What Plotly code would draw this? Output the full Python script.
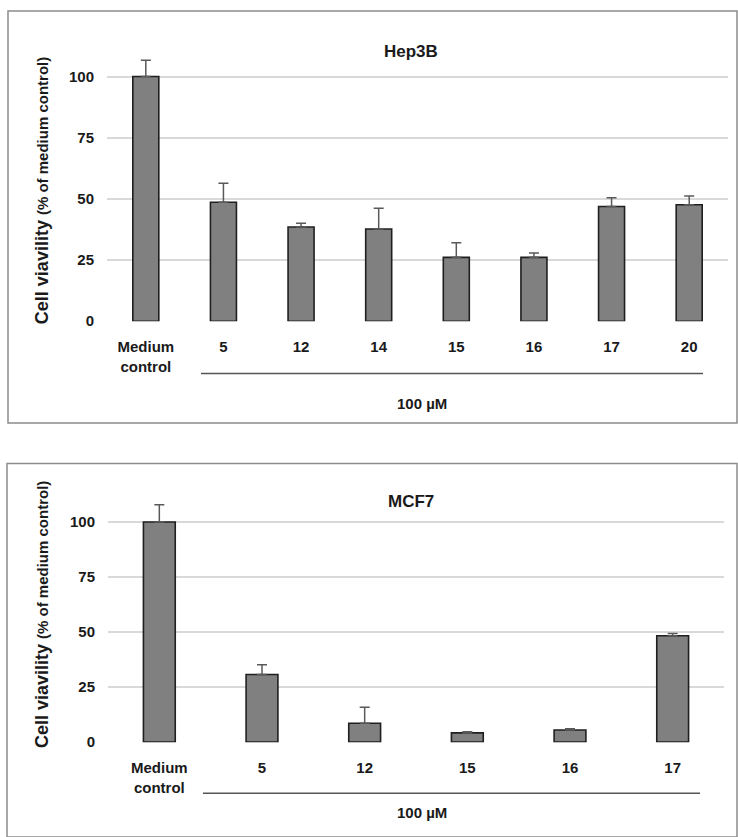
import plotly.graph_objects as go

W, H = 738, 837

# Data
hep_categories = ["Medium<br>control", "5", "12", "14", "15", "16", "17", "20"]
hep_values = [100, 48.6, 38.5, 37.7, 26.1, 26.1, 46.9, 47.6]
hep_errors = [6.7, 7.8, 1.5, 8.5, 6.0, 1.8, 3.6, 3.6]

mcf_categories = ["Medium<br>control", "5", "12", "15", "16", "17"]
mcf_values = [100, 30.7, 8.6, 4.2, 5.5, 48.3]
mcf_errors = [7.8, 4.5, 7.2, 0.5, 0.6, 1.0]

y_ticks = [0, 25, 50, 75, 100]

FONT = "Liberation Sans Narrow, Liberation Sans, Arial, sans-serif"
BAR_COLOR = "#808080"
GRID = "#d9d9d9"
TXT = "#1a1a1a"


def px_x(v):
    return v / W


def px_y(v):
    return 1 - v / H


fig = go.Figure()

fig.add_trace(go.Bar(
    x=hep_categories, y=hep_values, width=0.335,
    marker=dict(color=BAR_COLOR, line=dict(color="#1f1f1f", width=1.6)),
    error_y=dict(type="data", array=hep_errors, arrayminus=[0] * len(hep_errors),
                 symmetric=False, color="#595959", thickness=1.5, width=5),
    xaxis="x", yaxis="y", showlegend=False,
))
fig.add_trace(go.Bar(
    x=mcf_categories, y=mcf_values, width=0.31,
    marker=dict(color=BAR_COLOR, line=dict(color="#1f1f1f", width=1.6)),
    error_y=dict(type="data", array=mcf_errors, arrayminus=[0] * len(mcf_errors),
                 symmetric=False, color="#595959", thickness=1.5, width=5),
    xaxis="x2", yaxis="y2", showlegend=False,
))

xcommon = dict(showgrid=False, showline=False, zeroline=False, ticks="",
               tickfont=dict(family=FONT, size=15, color=TXT, weight="bold"),
               ticklabelstandoff=15, fixedrange=True)
ycommon = dict(range=[0, 120], tickvals=y_ticks, showgrid=True, gridcolor=GRID,
               gridwidth=1.5, zeroline=False, showline=False, ticks="",
               tickfont=dict(family=FONT, size=15, color=TXT, weight="bold"),
               ticklabelstandoff=12, fixedrange=True)

# Top panel: 0 at y=324.3 px, 2.47 px/unit
top_zero = 324.3
top_top = top_zero - 120 * 2.47
# Bottom panel: 0 at y=749.3, 2.223 px/unit
bot_zero = 749.3
bot_top = bot_zero - 120 * 2.223

fig.update_layout(
    width=W, height=H,
    margin=dict(l=0, r=0, t=0, b=0),
    paper_bgcolor="white", plot_bgcolor="white",
    xaxis=dict(domain=[px_x(107), px_x(728)], anchor="y", **xcommon),
    yaxis=dict(domain=[px_y(top_zero), px_y(top_top)], anchor="x", **ycommon),
    xaxis2=dict(domain=[px_x(108), px_x(724)], anchor="y2", **xcommon),
    yaxis2=dict(domain=[px_y(bot_zero), px_y(bot_top)], anchor="x2", **ycommon),
)

shapes = [
    # panel borders
    dict(type="rect", xref="paper", yref="paper", x0=px_x(8), x1=px_x(737),
         y0=px_y(427), y1=px_y(11), line=dict(color="#8c8c8c", width=1.5)),
    dict(type="rect", xref="paper", yref="paper", x0=px_x(7), x1=px_x(737),
         y0=px_y(845), y1=px_y(468), line=dict(color="#8c8c8c", width=1.5)),
    # bracket lines under compound labels
    dict(type="line", xref="paper", yref="paper", x0=px_x(201), x1=px_x(703),
         y0=px_y(377), y1=px_y(377), line=dict(color="#555555", width=1.5)),
    dict(type="line", xref="paper", yref="paper", x0=px_x(203), x1=px_x(700),
         y0=px_y(801), y1=px_y(801), line=dict(color="#555555", width=1.5)),
]

ytitle = ("<b>Cell viavility</b> <b><span style='font-size:15px'>"
          "(% of medium control)</span></b>")


def ann(text, x, y, size, angle=0):
    return dict(text=text, x=px_x(x), y=px_y(y), xref="paper", yref="paper",
                xanchor="center", yanchor="middle", showarrow=False,
                textangle=angle, font=dict(family=FONT, size=size, color=TXT))


annotations = [
    ann("<b>Hep3B</b>", 411, 52, 17),
    ann("<b>MCF7</b>", 411, 506, 17),
    ann("<b>100 µM</b>", 422, 407, 15),
    ann("<b>100 µM</b>", 422, 820, 15),
    ann(ytitle, 42, 193, 18, -90),
    ann(ytitle, 42, 621, 18, -90),
]

fig.update_layout(shapes=shapes, annotations=annotations)

fig.write_html("out.html", config={"displayModeBar": False},
               post_script="document.body.style.margin='0';document.body.style.overflow='hidden';")
